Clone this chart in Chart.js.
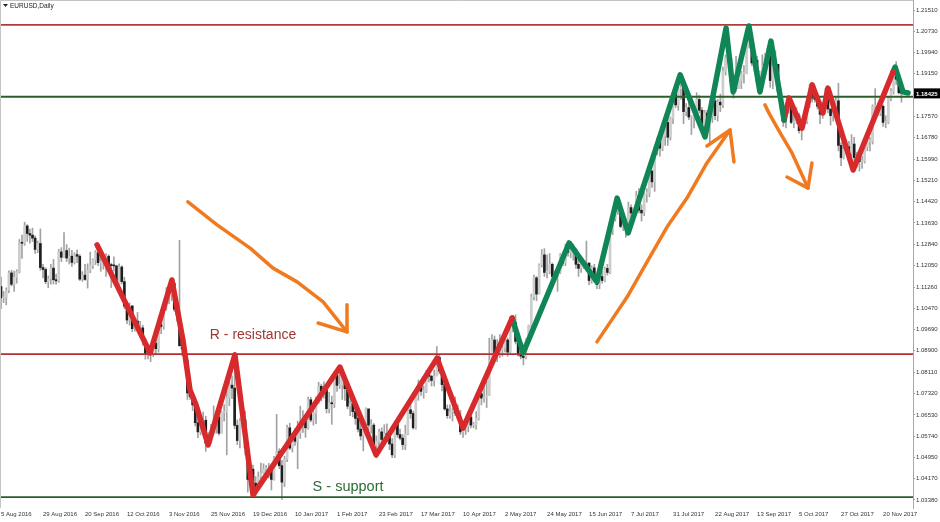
<!DOCTYPE html>
<html>
<head>
<meta charset="utf-8">
<title>EURUSD Daily</title>
<script src="https://cdn.jsdelivr.net/npm/chart.js@4.4.1/dist/chart.umd.min.js"></script>
<style>
  html, body { margin: 0; padding: 0; background: #fff; }
</style>
</head>
<body>
<canvas id="eurusdChart" width="940" height="522"></canvas>
<script>
// daily bars, one per weekday from 5 Aug 2016 (bar 0) to 29 Nov 2017 (bar 343)
const firstOpen = 1.1128;
const closes = [
  1.1086,
  1.1087, 1.1115, 1.1178, 1.1136, 1.1162,
  1.1183, 1.1289, 1.1288, 1.1352, 1.1324,
  1.1318, 1.1307, 1.1265, 1.1287, 1.1198,
  1.1191, 1.1146, 1.1157, 1.1196, 1.1153,
  1.1149, 1.1256, 1.1236, 1.1261, 1.1233,
  1.1240, 1.1217, 1.1246, 1.1240, 1.1155,
  1.1170, 1.1154, 1.1188, 1.1207, 1.1226,
  1.1253, 1.1216, 1.1218, 1.1223, 1.1240,
  1.1209, 1.1205, 1.1204, 1.1136, 1.1200,
  1.1146, 1.1055, 1.1004, 1.1056, 1.0972,
  1.1000, 1.0975, 1.0975, 1.0928, 1.0880,
  1.0880, 1.0880, 1.0918, 1.0898, 1.0987,
  1.0980, 1.1056, 1.1099, 1.1099, 1.1140,
  1.1044, 1.1023, 1.0909, 1.0897, 1.0853,
  1.0734, 1.0721, 1.0690, 1.0624, 1.0590,
  1.0628, 1.0633, 1.0548, 1.0547, 1.0592,
  1.0613, 1.0645, 1.0585, 1.0662, 1.0664,
  1.0717, 1.0763, 1.0752, 1.0614, 1.0558,
  1.0630, 1.0635, 1.0531, 1.0414, 1.0452,
  1.0400, 1.0385, 1.0424, 1.0437, 1.0453,
  1.0455, 1.0455, 1.0414, 1.0491, 1.0517,
  1.0465, 1.0404, 1.0489, 1.0605, 1.0530,
  1.0573, 1.0555, 1.0587, 1.0614, 1.0643,
  1.0605, 1.0709, 1.0634, 1.0660, 1.0700,
  1.0759, 1.0730, 1.0746, 1.0676, 1.0698,
  1.0694, 1.0799, 1.0762, 1.0763, 1.0785,
  1.0750, 1.0685, 1.0695, 1.0665, 1.0640,
  1.0600, 1.0575, 1.0605, 1.0675, 1.0615,
  1.0615, 1.0540, 1.0555, 1.0590, 1.0562,
  1.0585, 1.0575, 1.0545, 1.0505, 1.0620,
  1.0580, 1.0567, 1.0543, 1.0583, 1.0672,
  1.0658, 1.0605, 1.0734, 1.0763, 1.0740,
  1.0740, 1.0810, 1.0796, 1.0780, 1.0797,
  1.0866, 1.0815, 1.0765, 1.0675, 1.0650,
  1.0665, 1.0665, 1.0660, 1.0645, 1.0590,
  1.0600, 1.0610, 1.0645, 1.0615, 1.0615,
  1.0640, 1.0731, 1.0715, 1.0716, 1.0725,
  1.0855, 1.0930, 1.0878, 1.0874, 1.0895,
  1.0900, 1.0930, 1.0885, 1.0985, 1.0995,
  1.0925, 1.0875, 1.0870, 1.0865, 1.0932,
  1.0983, 1.1090, 1.1160, 1.1100, 1.1208,
  1.1245, 1.1180, 1.1185, 1.1210, 1.1165,
  1.1165, 1.1180, 1.1245, 1.1215, 1.1280,
  1.1255, 1.1275, 1.1265, 1.1210, 1.1195,
  1.1215, 1.1210, 1.1215, 1.1150, 1.1197,
  1.1150, 1.1135, 1.1165, 1.1150, 1.1195,
  1.1180, 1.1335, 1.1380, 1.1440, 1.1425,
  1.1350, 1.1350, 1.1350, 1.1420, 1.1400,
  1.1400, 1.1465, 1.1410, 1.1400, 1.1470,
  1.1475, 1.1555, 1.1515, 1.1635, 1.1665,
  1.1640, 1.1685, 1.1735, 1.1680, 1.1750,
  1.1840, 1.1800, 1.1860, 1.1865, 1.1775,
  1.1790, 1.1755, 1.1755, 1.1760, 1.1820,
  1.1780, 1.1725, 1.1770, 1.1725, 1.1760,
  1.1815, 1.1760, 1.1810, 1.1800, 1.1925,
  1.1975, 1.1975, 1.1885, 1.1905, 1.1860,
  1.1890, 1.1915, 1.1915, 1.2025, 1.2035,
  1.1955, 1.1965, 1.1885, 1.1920, 1.1945,
  1.1985, 1.1995, 1.1890, 1.1945, 1.1950,
  1.1850, 1.1795, 1.1745, 1.1785, 1.1815,
  1.1735, 1.1740, 1.1760, 1.1705, 1.1730,
  1.1740, 1.1810, 1.1860, 1.1825, 1.1820,
  1.1795, 1.1765, 1.1790, 1.1845, 1.1785,
  1.1760, 1.1760, 1.1815, 1.1650, 1.1605,
  1.1635, 1.1645, 1.1620, 1.1655, 1.1605,
  1.1610, 1.1590, 1.1590, 1.1645, 1.1665,
  1.1665, 1.1795, 1.1795, 1.1770, 1.1795,
  1.1735, 1.1735, 1.1825, 1.1850, 1.1930,
  1.1895, 1.1845, 1.18425
];
const highs = [
  1.1163,
  1.1110, 1.1123, 1.1186, 1.1188, 1.1185,
  1.1190, 1.1302, 1.1318, 1.1366, 1.1357,
  1.1340, 1.1344, 1.1315, 1.1296, 1.1341,
  1.1210, 1.1197, 1.1167, 1.1210, 1.1228,
  1.1174, 1.1266, 1.1272, 1.1327, 1.1283,
  1.1270, 1.1262, 1.1253, 1.1264, 1.1246,
  1.1183, 1.1210, 1.1212, 1.1255, 1.1230,
  1.1261, 1.1260, 1.1237, 1.1245, 1.1250,
  1.1246, 1.1214, 1.1238, 1.1207, 1.1212,
  1.1205, 1.1162, 1.1058, 1.1067, 1.1058,
  1.1008, 1.1032, 1.0999, 1.0985, 1.0937,
  1.0904, 1.0901, 1.0941, 1.0929, 1.0990,
  1.0995, 1.1070, 1.1124, 1.1123, 1.1145,
  1.1106, 1.1073, 1.1299, 1.0963, 1.0919,
  1.0863, 1.0790, 1.0734, 1.0716, 1.0640,
  1.0636, 1.0663, 1.0648, 1.0587, 1.0618,
  1.0686, 1.0657, 1.0668, 1.0667, 1.0691,
  1.0796, 1.0774, 1.0797, 1.0874, 1.0634,
  1.0639, 1.0670, 1.0667, 1.0541, 1.0475,
  1.0467, 1.0425, 1.0442, 1.0475, 1.0472,
  1.0466, 1.0474, 1.0466, 1.0500, 1.0655,
  1.0528, 1.0485, 1.0500, 1.0615, 1.0622,
  1.0585, 1.0602, 1.0630, 1.0685, 1.0669,
  1.0640, 1.0719, 1.0718, 1.0681, 1.0720,
  1.0774, 1.0767, 1.0775, 1.0750, 1.0736,
  1.0723, 1.0812, 1.0810, 1.0829, 1.0800,
  1.0794, 1.0766, 1.0720, 1.0705, 1.0680,
  1.0645, 1.0627, 1.0625, 1.0679, 1.0671,
  1.0636, 1.0621, 1.0575, 1.0600, 1.0605,
  1.0617, 1.0620, 1.0585, 1.0565, 1.0628,
  1.0630, 1.0600, 1.0580, 1.0615, 1.0700,
  1.0714, 1.0667, 1.0746, 1.0782, 1.0770,
  1.0760, 1.0818, 1.0825, 1.0800, 1.0820,
  1.0906, 1.0875, 1.0820, 1.0775, 1.0690,
  1.0690, 1.0679, 1.0720, 1.0690, 1.0670,
  1.0620, 1.0630, 1.0660, 1.0675, 1.0625,
  1.0665, 1.0737, 1.0745, 1.0778, 1.0777,
  1.0937, 1.0950, 1.0945, 1.0932, 1.0950,
  1.0912, 1.0950, 1.0937, 1.0990, 1.1020,
  1.1023, 1.0935, 1.0905, 1.0895, 1.0935,
  1.0985, 1.1100, 1.1170, 1.1165, 1.1212,
  1.1265, 1.1268, 1.1245, 1.1250, 1.1215,
  1.1185, 1.1200, 1.1250, 1.1255, 1.1285,
  1.1285, 1.1295, 1.1285, 1.1270, 1.1225,
  1.1230, 1.1225, 1.1296, 1.1215, 1.1205,
  1.1210, 1.1160, 1.1175, 1.1185, 1.1200,
  1.1210, 1.1350, 1.1390, 1.1445, 1.1445,
  1.1420, 1.1365, 1.1380, 1.1440, 1.1430,
  1.1410, 1.1480, 1.1490, 1.1430, 1.1475,
  1.1490, 1.1580, 1.1560, 1.1650, 1.1680,
  1.1680, 1.1710, 1.1740, 1.1775, 1.1755,
  1.1845, 1.1845, 1.1865, 1.1910, 1.1870,
  1.1805, 1.1825, 1.1760, 1.1780, 1.1845,
  1.1835, 1.1790, 1.1780, 1.1780, 1.1785,
  1.1825, 1.1825, 1.1820, 1.1840, 1.1940,
  1.1985, 1.2070, 1.1985, 1.1910, 1.1980,
  1.1895, 1.1925, 1.1945, 1.2060, 1.2092,
  1.2010, 1.1995, 1.1980, 1.1925, 1.1985,
  1.1990, 1.2010, 1.2035, 1.1960, 1.2000,
  1.1935, 1.1860, 1.1805, 1.1790, 1.1835,
  1.1815, 1.1780, 1.1790, 1.1770, 1.1740,
  1.1765, 1.1820, 1.1875, 1.1880, 1.1870,
  1.1830, 1.1805, 1.1800, 1.1860, 1.1850,
  1.1785, 1.1790, 1.1830, 1.1880, 1.1660,
  1.1665, 1.1670, 1.1665, 1.1690, 1.1680,
  1.1625, 1.1600, 1.1610, 1.1655, 1.1685,
  1.1680, 1.1800, 1.1860, 1.1805, 1.1820,
  1.1800, 1.1760, 1.1830, 1.1860, 1.1940,
  1.1960, 1.1905, 1.1880
];
const lows = [
  1.1046,
  1.1068, 1.1060, 1.1105, 1.1130, 1.1110,
  1.1140, 1.1178, 1.1232, 1.1280, 1.1295,
  1.1288, 1.1294, 1.1250, 1.1253, 1.1188,
  1.1160, 1.1138, 1.1123, 1.1137, 1.1137,
  1.1137, 1.1143, 1.1220, 1.1240, 1.1220,
  1.1211, 1.1202, 1.1211, 1.1216, 1.1150,
  1.1147, 1.1150, 1.1122, 1.1179, 1.1195,
  1.1209, 1.1205, 1.1184, 1.1192, 1.1165,
  1.1204, 1.1124, 1.1185, 1.1126, 1.1114,
  1.1137, 1.1046, 1.0990, 1.0985, 1.0960,
  1.0963, 1.0968, 1.0955, 1.0911, 1.0859,
  1.0860, 1.0850, 1.0868, 1.0875, 1.0885,
  1.0953, 1.0970, 1.1040, 1.1064, 1.1076,
  1.1036, 1.1001, 1.0907, 1.0871, 1.0826,
  1.0710, 1.0710, 1.0669, 1.0612, 1.0569,
  1.0579, 1.0604, 1.0518, 1.0534, 1.0547,
  1.0582, 1.0585, 1.0578, 1.0585, 1.0630,
  1.0505, 1.0687, 1.0713, 1.0602, 1.0543,
  1.0531, 1.0605, 1.0505, 1.0367, 1.0395,
  1.0390, 1.0352, 1.0373, 1.0417, 1.0435,
  1.0436, 1.0420, 1.0375, 1.0411, 1.0473,
  1.0454, 1.0340, 1.0388, 1.0480, 1.0524,
  1.0516, 1.0540, 1.0454, 1.0566, 1.0588,
  1.0570, 1.0600, 1.0627, 1.0615, 1.0620,
  1.0695, 1.0704, 1.0715, 1.0660, 1.0660,
  1.0618, 1.0680, 1.0740, 1.0750, 1.0710,
  1.0706, 1.0675, 1.0650, 1.0645, 1.0618,
  1.0590, 1.0560, 1.0520, 1.0600, 1.0595,
  1.0585, 1.0525, 1.0494, 1.0536, 1.0540,
  1.0555, 1.0555, 1.0524, 1.0495, 1.0495,
  1.0570, 1.0560, 1.0525, 1.0524, 1.0580,
  1.0640, 1.0600, 1.0600, 1.0707, 1.0725,
  1.0715, 1.0735, 1.0775, 1.0760, 1.0760,
  1.0800, 1.0805, 1.0742, 1.0670, 1.0640,
  1.0640, 1.0630, 1.0650, 1.0635, 1.0580,
  1.0570, 1.0580, 1.0590, 1.0605, 1.0605,
  1.0600, 1.0634, 1.0690, 1.0700, 1.0680,
  1.0821, 1.0852, 1.0866, 1.0850, 1.0865,
  1.0870, 1.0885, 1.0870, 1.0880, 1.0960,
  1.0915, 1.0870, 1.0860, 1.0838, 1.0860,
  1.0920, 1.0975, 1.1078, 1.1075, 1.1100,
  1.1200, 1.1165, 1.1160, 1.1175, 1.1160,
  1.1150, 1.1110, 1.1175, 1.1205, 1.1205,
  1.1240, 1.1235, 1.1225, 1.1195, 1.1165,
  1.1180, 1.1195, 1.1185, 1.1135, 1.1140,
  1.1145, 1.1120, 1.1120, 1.1140, 1.1145,
  1.1170, 1.1175, 1.1320, 1.1370, 1.1395,
  1.1345, 1.1335, 1.1310, 1.1340, 1.1385,
  1.1370, 1.1395, 1.1400, 1.1370, 1.1390,
  1.1440, 1.1460, 1.1495, 1.1480, 1.1615,
  1.1610, 1.1630, 1.1650, 1.1650, 1.1670,
  1.1730, 1.1790, 1.1780, 1.1820, 1.1730,
  1.1760, 1.1745, 1.1690, 1.1715, 1.1740,
  1.1770, 1.1710, 1.1680, 1.1705, 1.1660,
  1.1735, 1.1745, 1.1740, 1.1775, 1.1790,
  1.1910, 1.1955, 1.1865, 1.1825, 1.1850,
  1.1860, 1.1860, 1.1880, 1.1915, 1.2010,
  1.1945, 1.1925, 1.1870, 1.1840, 1.1885,
  1.1935, 1.1955, 1.1865, 1.1860, 1.1925,
  1.1840, 1.1790, 1.1720, 1.1715, 1.1770,
  1.1730, 1.1715, 1.1730, 1.1695, 1.1670,
  1.1715, 1.1730, 1.1790, 1.1810, 1.1810,
  1.1785, 1.1730, 1.1750, 1.1780, 1.1770,
  1.1725, 1.1740, 1.1755, 1.1630, 1.1575,
  1.1600, 1.1620, 1.1600, 1.1610, 1.1595,
  1.1570, 1.1555, 1.1565, 1.1585, 1.1630,
  1.1630, 1.1655, 1.1770, 1.1760, 1.1760,
  1.1720, 1.1715, 1.1730, 1.1815, 1.1840,
  1.1875, 1.1840, 1.1810
];

// time scale labels (bar number, text)
const tickBars = [0, 16, 32, 48, 64, 80, 96, 112, 128, 144, 160, 176, 192, 208, 224, 240, 256, 272, 288, 304, 320, 336];
const tickDates = ['5 Aug 2016', '29 Aug 2016', '20 Sep 2016', '12 Oct 2016', '3 Nov 2016', '25 Nov 2016',
  '19 Dec 2016', '10 Jan 2017', '1 Feb 2017', '23 Feb 2017', '17 Mar 2017', '10 Apr 2017', '2 May 2017',
  '24 May 2017', '15 Jun 2017', '7 Jul 2017', '31 Jul 2017', '22 Aug 2017', '13 Sep 2017', '5 Oct 2017',
  '27 Oct 2017', '20 Nov 2017'];
const priceTicks = [1.21510, 1.20730, 1.19940, 1.19150, 1.17570, 1.16780, 1.15990, 1.15210, 1.14420,
  1.13630, 1.12840, 1.12050, 1.11260, 1.10470, 1.09690, 1.08900, 1.08110, 1.07320, 1.06530,
  1.05740, 1.04950, 1.04170, 1.03380];
const lastPrice = 1.18425;

// horizontal levels
const resistanceLevels = [1.2096, 1.0878];
const supportLevels = [1.1830, 1.0349];

// hand drawn swings, [bar, price]
const redLeg1 = [[36.6, 1.1282], [56.8, 1.0882], [65.1, 1.1152], [69.3, 1.0930], [72.0, 1.0745], [74.3, 1.0690],
  [78.9, 1.0542], [89.1, 1.0875], [96.0, 1.0357], [129.1, 1.0830], [142.9, 1.0505], [166.1, 1.0863],
  [176.0, 1.0604], [194.7, 1.1011]];
const greenLeg1 = [[194.7, 1.1011], [198.9, 1.0882], [216.4, 1.1289], [227.0, 1.1145], [234.7, 1.1455],
  [238.9, 1.1326], [258.7, 1.1911], [268.2, 1.1681], [276.2, 1.2084], [278.9, 1.1848], [284.9, 1.2092],
  [289.1, 1.1848], [293.3, 1.2036], [298.3, 1.1744]];
const redLeg2 = [[298.3, 1.1744], [300.2, 1.1825], [305.1, 1.1714], [309.0, 1.1874], [313.1, 1.1770],
  [315.0, 1.1862], [324.6, 1.1559], [339.8, 1.1922]];
const greenLeg2 = [[339.8, 1.1922], [340.6, 1.1940], [343.6, 1.1848], [345.5, 1.1844]];

// orange arrows, [bar, price]
const arrowDownLong = [[71.2, 1.1441], [82.3, 1.1356], [94.9, 1.1270], [103.6, 1.1196], [112.8, 1.1145],
  [122.7, 1.1071], [131.8, 1.0960]];
const arrowDownLongHead = [[120.8, 1.0993], [131.8, 1.0960], [131.8, 1.1060]];
const arrowUp = [[227.0, 1.0923], [233.1, 1.1011], [238.5, 1.1089], [246.1, 1.1219], [253.7, 1.1348],
  [261.3, 1.1455], [268.9, 1.1585], [277.7, 1.1707]];
const arrowUpHead = [[268.9, 1.1648], [277.7, 1.1707], [279.2, 1.1589]];
const arrowDownShort = [[291.0, 1.1800], [292.9, 1.1763], [296.8, 1.1696], [301.3, 1.1622], [305.5, 1.1533],
  [307.4, 1.1492]];
const arrowDownShortHead = [[299.4, 1.1533], [307.4, 1.1492], [308.9, 1.1585]];

// ---- chart ----
const xMin = -0.38, xMax = 347.4;
const yMin = 1.03084, yMax = 1.21880;

Chart.defaults.font.family = '"Liberation Sans", Arial, sans-serif';

const wicks = [];
const bodies = [];
const bodyColors = [];
closes.forEach((c, i) => {
  const o = i === 0 ? firstOpen : closes[i - 1];
  wicks.push({ x: i, y: [Math.min(lows[i], o, c), Math.max(highs[i], o, c)] });
  bodies.push({ x: i, y: [o, c] });
  bodyColors.push(c >= o ? "#cdcdcd" : "#1e1e1e");
});

function levelLine(level, color) {
  return {
    type: "line",
    data: [{ x: xMin, y: level }, { x: xMax, y: level }],
    borderColor: color,
    borderWidth: 1.8,
    pointRadius: 0,
    order: 5,
  };
}

function strokeLine(points, color, width, order) {
  return {
    type: "line",
    data: points.map((p) => ({ x: p[0], y: p[1] })),
    borderColor: color,
    borderWidth: width,
    pointRadius: 0,
    tension: 0,
    borderCapStyle: "round",
    borderJoinStyle: "round",
    order: order,
  };
}

const RED = "#d72a2c";
const GREEN = "#108657";
const ORANGE = "#f07a20";

// text notes and the price tag
const notes = [
  { text: "R - resistance", bar: 96.0, price: 1.0949, color: "#a33535", size: 14 },
  { text: "S - support", bar: 132.2, price: 1.0386, color: "#2d6a35", size: 14.5 },
];

const overlay = {
  id: "overlay",
  afterDraw(chart) {
    const { ctx, chartArea: a, scales } = chart;
    ctx.save();
    // frame top and left
    ctx.strokeStyle = "#c4c4c4";
    ctx.lineWidth = 1;
    ctx.beginPath();
    ctx.moveTo(a.left + 0.5, a.bottom);
    ctx.lineTo(a.left + 0.5, a.top + 0.5);
    ctx.lineTo(a.right, a.top + 0.5);
    ctx.stroke();

    // symbol caption
    ctx.fillStyle = "#222";
    ctx.beginPath();
    ctx.moveTo(3, 4);
    ctx.lineTo(8, 4);
    ctx.lineTo(5.5, 7);
    ctx.closePath();
    ctx.fill();
    ctx.font = '6.5px "Liberation Sans", Arial, sans-serif';
    ctx.textAlign = "left";
    ctx.textBaseline = "middle";
    ctx.fillText("EURUSD,Daily", 10, 6);

    notes.forEach((n) => {
      ctx.fillStyle = n.color;
      ctx.font = n.size + 'px "Liberation Sans", Arial, sans-serif';
      ctx.textAlign = "center";
      ctx.fillText(n.text, scales.x.getPixelForValue(n.bar), scales.y.getPixelForValue(n.price));
    });

    // current price tag
    const py = scales.y.getPixelForValue(lastPrice);
    ctx.fillStyle = "#000";
    ctx.fillRect(a.right + 1, py - 5, 26, 10);
    ctx.fillStyle = "#fff";
    ctx.font = 'bold 6px "Liberation Sans", Arial, sans-serif';
    ctx.textAlign = "left";
    ctx.fillText(lastPrice.toFixed(5), a.right + 3, py + 0.5);
    ctx.restore();
  },
};

new Chart(document.getElementById("eurusdChart"), {
  type: "bar",
  data: {
    datasets: [
      {
        data: wicks,
        backgroundColor: "#a2a2a2",
        barThickness: 1,
        grouped: false,
        order: 10,
      },
      {
        data: bodies,
        backgroundColor: bodyColors,
        barThickness: 2,
        minBarLength: 1,
        grouped: false,
        order: 9,
      },
      levelLine(resistanceLevels[0], "#b33a3a"),
      levelLine(resistanceLevels[1], "#b33030"),
      levelLine(supportLevels[0], "#2b5e2b"),
      levelLine(supportLevels[1], "#2b5e2b"),
      strokeLine(redLeg1, RED, 5.5, 3),
      strokeLine(greenLeg1, GREEN, 5.5, 3),
      strokeLine(redLeg2, RED, 5.5, 3),
      strokeLine(greenLeg2, GREEN, 5.5, 3),
      strokeLine(arrowDownLong, ORANGE, 3.5, 1),
      strokeLine(arrowDownLongHead, ORANGE, 3.5, 1),
      strokeLine(arrowUp, ORANGE, 3.5, 1),
      strokeLine(arrowUpHead, ORANGE, 3.5, 1),
      strokeLine(arrowDownShort, ORANGE, 3.5, 1),
      strokeLine(arrowDownShortHead, ORANGE, 3.5, 1),
    ],
  },
  options: {
    responsive: false,
    animation: false,
    events: [],
    layout: { padding: 0 },
    plugins: {
      legend: { display: false },
      tooltip: { enabled: false },
      title: { display: false },
    },
    scales: {
      x: {
        type: "linear",
        min: xMin,
        max: xMax,
        offset: false,
        grid: { display: false, drawTicks: false },
        border: { display: false },
        afterBuildTicks: (s) => {
          s.ticks = tickBars.map((v) => ({ value: v }));
        },
        afterFit: (s) => {
          s.height = 14;
          s.paddingLeft = 0;
          s.paddingRight = 0;
        },
        ticks: {
          autoSkip: false,
          maxRotation: 0,
          align: "start",
          padding: 3,
          color: "#333",
          font: { size: 6 },
          callback: (v, i) => tickDates[i],
        },
      },
      y: {
        type: "linear",
        position: "right",
        min: yMin,
        max: yMax,
        grid: { drawOnChartArea: false, tickLength: 2, color: "#9a9a9a" },
        border: { color: "#a8a8a8" },
        afterBuildTicks: (s) => {
          s.ticks = priceTicks.map((v) => ({ value: v }));
        },
        afterFit: (s) => {
          s.width = 27;
          s.paddingTop = 0;
          s.paddingBottom = 0;
        },
        ticks: {
          autoSkip: false,
          padding: 1,
          color: "#333",
          font: { size: 6 },
          callback: (v) => Number(v).toFixed(5),
        },
      },
    },
  },
  plugins: [overlay],
});
</script>
</body>
</html>
